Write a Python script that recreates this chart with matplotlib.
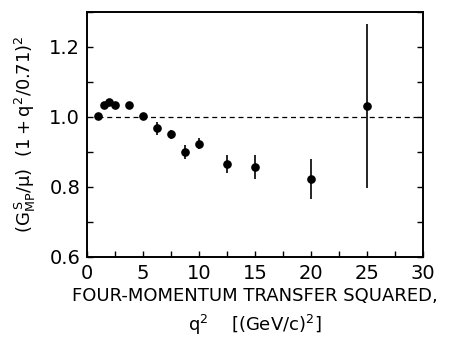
import matplotlib
matplotlib.use("Agg")
import matplotlib.pyplot as plt
from matplotlib.ticker import MultipleLocator

# data
q2 = [1.0, 1.5, 2.0, 2.5, 3.7, 5.0, 6.25, 7.5, 8.75, 10.0, 12.5, 15.0, 20.0, 25.0]
ratio = [1.002, 1.035, 1.044, 1.034, 1.034, 1.004, 0.967, 0.950, 0.900, 0.924, 0.866, 0.857, 0.822, 1.031]
err = [0.0, 0.0, 0.0, 0.0, 0.0, 0.0, 0.018, 0.012, 0.020, 0.015, 0.026, 0.034, 0.057, 0.235]
dipole_q2 = [1.0, 30.0]
dipole_val = [1.0, 1.0]

fig = plt.figure(figsize=(4.49, 3.39), dpi=100)
ax = fig.add_axes([0.194, 0.242, 0.748, 0.723])

ax.plot(dipole_q2, dipole_val, color="black", lw=0.9, ls=(0, (4, 3)))
ax.errorbar(q2, ratio, yerr=err, fmt="o", color="black", ms=5.2,
            elinewidth=1.2, capsize=0)

ax.set_xlim(0, 30)
ax.set_ylim(0.6, 1.3)
ax.xaxis.set_major_locator(MultipleLocator(5))
ax.xaxis.set_minor_locator(MultipleLocator(2.5))
ax.yaxis.set_major_locator(MultipleLocator(0.2))
ax.yaxis.set_minor_locator(MultipleLocator(0.1))
ax.yaxis.set_major_formatter(matplotlib.ticker.FormatStrFormatter("%.1f"))
ax.tick_params(which="both", direction="in", length=4.5, width=1.0,
               top=False, right=True, labelsize=14, pad=5)
for s in ax.spines.values():
    s.set_linewidth(1.4)

ax.set_xlabel("FOUR-MOMENTUM TRANSFER SQUARED,\n"
              r"$\mathregular{q^2}$    [(GeV/c)$^\mathregular{2}$]",
              fontsize=13, linespacing=1.45, labelpad=3)
ax.set_ylabel(r"$\mathregular{(G^{\,S}_{MP}/\mu)\ \ (1+q^2/0.71)^2}$",
              fontsize=13, labelpad=8)

fig.savefig("out.png", dpi=100)
